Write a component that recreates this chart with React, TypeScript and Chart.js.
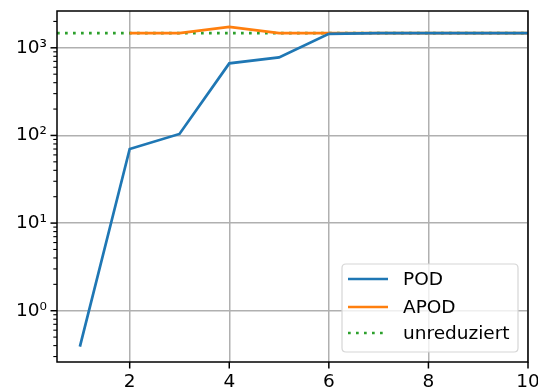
import React, { useEffect, useRef } from "react";
import { Chart, registerables } from "chart.js";

Chart.register(...registerables);

const xValues = [1, 2, 3, 4, 5, 6, 7, 8, 9, 10];
const podValues = [0.39, 70, 104, 664, 777, 1445, 1470, 1470, 1470, 1470];
const apodValues = [null, 1470, 1470, 1735, 1470, 1470, 1470, 1470, 1470, 1470];
const unreducedX = [0.54, 10];
const unreducedValues = [1470, 1470];
const xTicks = [2, 4, 6, 8, 10];
const seriesLabels = ["POD", "APOD", "unreduziert"];

const X_MIN = 0.54;
const X_MAX = 10;
const Y_MIN = 0.26;
const Y_MAX = 2630;

const FONT = '"DejaVu Sans", sans-serif';
const FONT_SIZE = 18.5;
const SUP: Record<string, string> = { "-": "⁻", "0": "⁰", "1": "¹", "2": "²", "3": "³", "4": "⁴", "5": "⁵", "6": "⁶", "7": "⁷", "8": "⁸", "9": "⁹" };

const isMajorLog = (v: number) => {
  const l = Math.log10(v);
  return Math.abs(l - Math.round(l)) < 1e-9;
};

const framePlugin = {
  id: "frame",
  afterDraw(chart: any) {
    const ctx = chart.ctx;
    const { left, right, top, bottom } = chart.chartArea;
    ctx.save();
    ctx.strokeStyle = "#000";
    ctx.lineWidth = 1.5;
    ctx.strokeRect(left, top, right - left, bottom - top);
    const xs = chart.scales.x;
    for (const t of xs.ticks) {
      const px = xs.getPixelForValue(t.value);
      ctx.beginPath();
      ctx.moveTo(px, bottom);
      ctx.lineTo(px, bottom + 6.5);
      ctx.stroke();
    }
    const ys = chart.scales.y;
    for (const t of ys.ticks) {
      const py = ys.getPixelForValue(t.value);
      const major = isMajorLog(t.value);
      ctx.lineWidth = major ? 1.5 : 1.1;
      ctx.beginPath();
      ctx.moveTo(left, py);
      ctx.lineTo(left - (major ? 6.5 : 3.7), py);
      ctx.stroke();
    }
    // legend
    const bx = 342, by = 264, bw = 176, bh = 88, r = 4;
    ctx.beginPath();
    ctx.moveTo(bx + r, by);
    ctx.lineTo(bx + bw - r, by);
    ctx.quadraticCurveTo(bx + bw, by, bx + bw, by + r);
    ctx.lineTo(bx + bw, by + bh - r);
    ctx.quadraticCurveTo(bx + bw, by + bh, bx + bw - r, by + bh);
    ctx.lineTo(bx + r, by + bh);
    ctx.quadraticCurveTo(bx, by + bh, bx, by + bh - r);
    ctx.lineTo(bx, by + r);
    ctx.quadraticCurveTo(bx, by, bx + r, by);
    ctx.closePath();
    ctx.fillStyle = "rgba(255,255,255,0.8)";
    ctx.fill();
    ctx.strokeStyle = "#d6d6d6";
    ctx.lineWidth = 1.2;
    ctx.stroke();
    const ds = chart.data.datasets;
    const rows = [279, 307, 333];
    ctx.font = `${FONT_SIZE}px ${FONT}`;
    ctx.textBaseline = "middle";
    ctx.textAlign = "left";
    for (let i = 0; i < 3; i++) {
      const d = ds[i];
      ctx.strokeStyle = d.borderColor;
      ctx.lineWidth = d.borderWidth;
      ctx.setLineDash(d.borderDash || []);
      ctx.beginPath();
      ctx.moveTo(348, rows[i]);
      ctx.lineTo(388, rows[i]);
      ctx.stroke();
      ctx.setLineDash([]);
      ctx.fillStyle = "#000";
      ctx.fillText(seriesLabels[i], 403, rows[i] + 1);
    }
    ctx.restore();
  },
};

export default function App() {
  const ref = useRef<HTMLCanvasElement | null>(null);
  useEffect(() => {
    document.body.style.margin = "0";
    const canvas = ref.current;
    if (!canvas) return;
    const chart = new Chart(canvas, {
      type: "line",
      data: {
        datasets: [
          {
            label: seriesLabels[0],
            data: xValues.map((x, i) => ({ x, y: podValues[i] })),
            borderColor: "#1f77b4",
            borderWidth: 2.7,
            pointRadius: 0,
            tension: 0,
          },
          {
            label: seriesLabels[1],
            data: xValues.map((x, i) => ({ x, y: apodValues[i] })),
            borderColor: "#ff7f0e",
            borderWidth: 2.7,
            pointRadius: 0,
            tension: 0,
          },
          {
            label: seriesLabels[2],
            data: unreducedX.map((x, i) => ({ x, y: unreducedValues[i] })),
            borderColor: "#2ca02c",
            borderWidth: 2.7,
            borderDash: [2.7, 5.3],
            borderCapStyle: "butt",
            pointRadius: 0,
          },
        ] as any,
      },
      options: {
        animation: false,
        responsive: false,
        devicePixelRatio: 1,
        layout: { padding: { top: 11, right: 10, left: 0, bottom: 0 } },
        plugins: { legend: { display: false }, tooltip: { enabled: false } },
        scales: {
          x: {
            type: "linear",
            min: X_MIN,
            max: X_MAX,
            afterBuildTicks: (s: any) => {
              s.ticks = xTicks.map((v) => ({ value: v }));
            },
            afterFit: (s: any) => {
              s.height = 29;
              s.paddingLeft = 0;
              s.paddingRight = 0;
              s.paddingTop = 0;
              s.paddingBottom = 0;
            },
            grid: { color: "#b0b0b0", lineWidth: 1.5, drawTicks: false },
            border: { display: false },
            ticks: {
              autoSkip: false,
              maxRotation: 0,
              padding: 9,
              color: "#000",
              font: { family: FONT, size: FONT_SIZE },
              callback: (v: any) => String(v),
            },
          },
          y: {
            type: "logarithmic",
            min: Y_MIN,
            max: Y_MAX,
            afterBuildTicks: (s: any) => {
              const t: any[] = [];
              for (let e = -1; e <= 3; e++) {
                for (let m = 1; m <= 9; m++) {
                  const v = m * Math.pow(10, e);
                  if (v >= Y_MIN && v <= Y_MAX) t.push({ value: v, major: m === 1 });
                }
              }
              s.ticks = t;
            },
            afterFit: (s: any) => {
              s.width = 57;
              s.paddingLeft = 0;
              s.paddingRight = 0;
              s.paddingTop = 0;
              s.paddingBottom = 0;
            },
            grid: {
              color: (c: any) => (c.tick && isMajorLog(c.tick.value) ? "#b0b0b0" : "rgba(0,0,0,0)"),
              lineWidth: 1.5,
              drawTicks: false,
            },
            border: { display: false },
            ticks: {
              autoSkip: false,
              padding: 10,
              color: "#000",
              font: { family: FONT, size: FONT_SIZE },
              callback: (v: any) => {
                const n = Number(v);
                if (!isMajorLog(n)) return "";
                const e = String(Math.round(Math.log10(n)));
                return "10" + e.split("").map((c) => SUP[c]).join("");
              },
            },
          },
        },
      } as any,
      plugins: [framePlugin],
    });
    return () => chart.destroy();
  }, []);
  return (
    <div style={{ width: 538, height: 391 }}>
      <canvas ref={ref} width={538} height={391} />
    </div>
  );
}
